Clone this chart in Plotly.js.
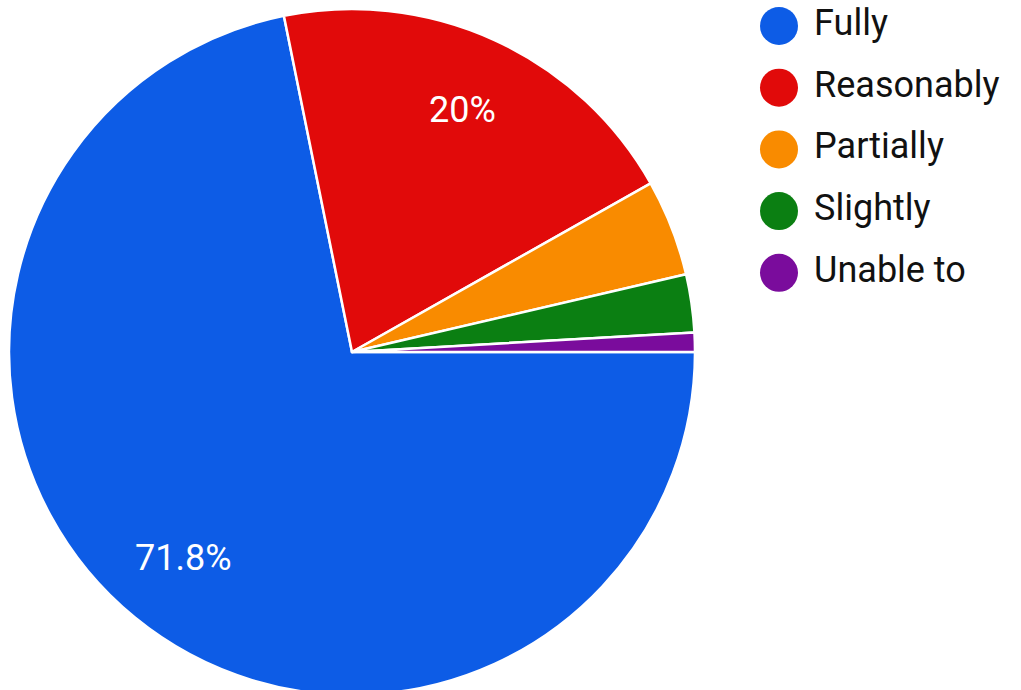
<!DOCTYPE html>
<html>
<head>
<meta charset="utf-8">
<script src="https://cdn.plot.ly/plotly-3.0.1.min.js"></script>
<style>
html,body{margin:0;padding:0;overflow:hidden;background:#fff;}
#chart{width:1021px;height:700px;}
</style>
</head>
<body>
<div id="chart"></div>
<script>
const categories = ["Fully", "Reasonably", "Partially", "Slightly", "Unable to"];
const responses = [79, 22, 5, 3, 1];
const sliceLabels = ["71.8%", "20%", "", "", ""];
const colors = ["#0d5ce6", "#e10a0a", "#f98b00", "#0b7f12", "#7a0c9c"];

const W = 1021, H = 700;
const cx = 352, cy = 352, R = 343;
const startDeg = 90; // clockwise from 12 o'clock

const pie = {
  type: "pie",
  labels: categories,
  values: responses,
  textinfo: "none",
  textposition: "none",
  sort: false,
  direction: "clockwise",
  rotation: startDeg,
  marker: {colors: colors, line: {color: "#ffffff", width: 2.5}},
  domain: {x: [(cx - R) / W, (cx + R) / W], y: [1 - (cy + R) / H, 1 - (cy - R) / H]},
  showlegend: false,
  hoverinfo: "label+percent"
};

// slice label positions derived from the values (mid-angle of each slice)
const total = responses.reduce((a, b) => a + b, 0);
let cum = 0;
const annotations = [];
responses.forEach((v, i) => {
  const mid = (startDeg + 360 * (cum + v / 2) / total) * Math.PI / 180;
  cum += v;
  if (!sliceLabels[i]) return;
  const r = 0.775 * R;
  annotations.push({
    xref: "paper", yref: "paper",
    x: (cx + r * Math.sin(mid)) / W,
    y: 1 - (cy - r * Math.cos(mid)) / H,
    xanchor: "center", yanchor: "middle",
    text: sliceLabels[i],
    showarrow: false,
    font: {family: "Roboto, sans-serif", size: 36, color: "#ffffff"}
  });
});

const legendIdx = categories.map((c, i) => i);
const legendMarkers = {
  type: "scatter",
  mode: "markers",
  x: categories.map(() => 0),
  y: legendIdx,
  marker: {size: 38, color: colors},
  showlegend: false,
  hoverinfo: "skip",
  cliponaxis: false
};
const legendText = {
  type: "scatter",
  mode: "text",
  x: categories.map(() => 0.145),
  y: legendIdx,
  text: categories,
  textposition: "middle right",
  textfont: {family: "Roboto, sans-serif", size: 36, color: "#111111"},
  showlegend: false,
  hoverinfo: "skip",
  cliponaxis: false
};

const layout = {
  width: W, height: H,
  margin: {l: 0, r: 0, t: 0, b: 0},
  paper_bgcolor: "#ffffff",
  plot_bgcolor: "rgba(0,0,0,0)",
  showlegend: false,
  xaxis: {domain: [779 / W, 1], range: [0, 1], visible: false, fixedrange: true},
  yaxis: {domain: [0, 1], range: [10.92, -0.42], visible: false, fixedrange: true},
  annotations: annotations
};

Plotly.newPlot("chart", [pie, legendMarkers, legendText], layout, {displayModeBar: false, staticPlot: true});
</script>
</body>
</html>
